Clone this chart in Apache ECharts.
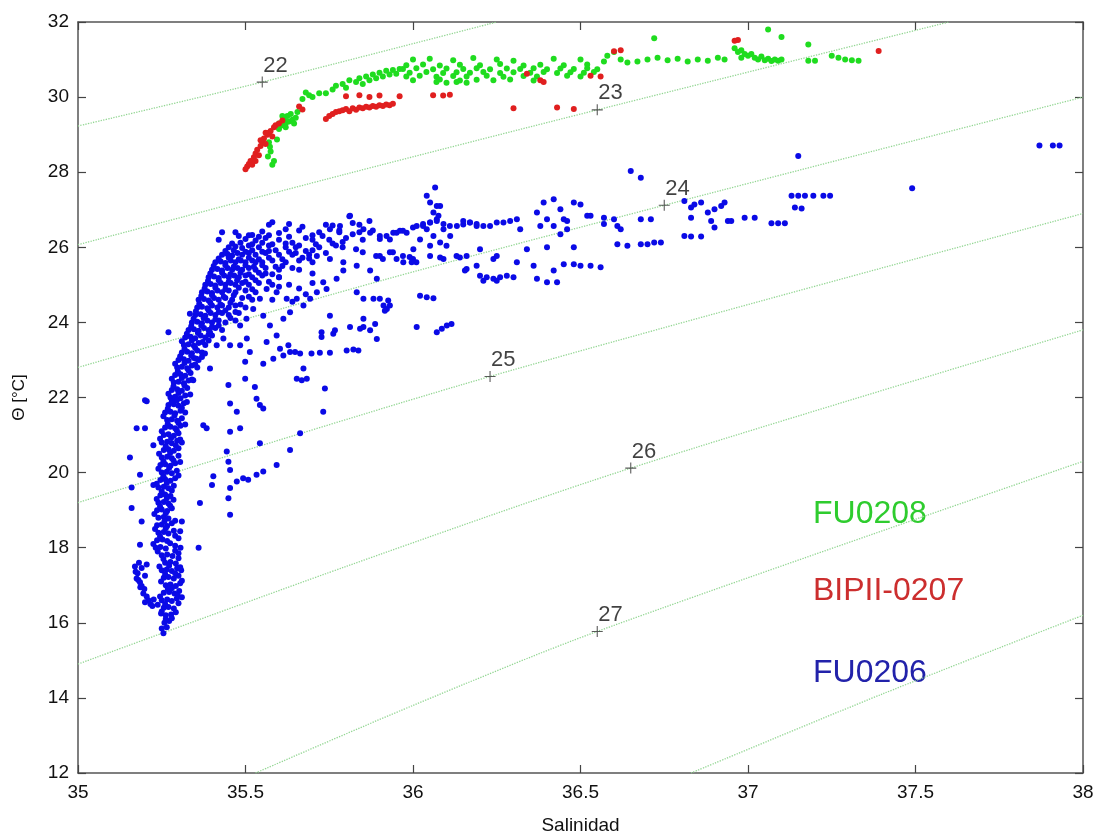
<!DOCTYPE html>
<html>
<head>
<meta charset="utf-8">
<script src="https://cdn.jsdelivr.net/npm/echarts@6/dist/echarts.min.js"></script>
<style>
html,body{margin:0;padding:0;background:#fff;}
#chart{width:1099px;height:840px;}
</style>
</head>
<body>
<div id="chart"></div>
<script>
// ---------- axis ticks ----------
const xTickValues = [35, 35.5, 36, 36.5, 37, 37.5, 38];
const xTickLabels = ['35', '35.5', '36', '36.5', '37', '37.5', '38'];
const yTickValues = [12, 14, 16, 18, 20, 22, 24, 26, 28, 30, 32];
const yTickLabels = ['12', '14', '16', '18', '20', '22', '24', '26', '28', '30', '32'];

// ---------- isopycnal (sigma-theta) lines: [S, theta] ----------
const sigma22 = [[35, 29.23], [35.55, 30.4], [36.25, 32]];
const sigma23 = [[35, 26.07], [35.8, 27.95], [36.55, 29.66], [37.6, 32]];
const sigma24 = [[35, 22.8], [35.9, 25.1], [36.75, 27.12], [38, 30.0]];
const sigma25 = [[35, 19.2], [36.23, 22.56], [38, 26.9]];
const sigma26 = [[35, 14.9], [35.8, 17.5], [36.65, 20.12], [38, 23.8]];
const sigma27 = [[35.53, 12], [36.0, 13.8], [36.55, 15.77], [38, 20.3]];
const sigma28 = [[36.83, 12], [37.4, 14.1], [38, 16.2]];

// ---------- isopycnal labels ----------
const densityLabels = ['22', '23', '24', '25', '26', '27'];
const labelSal = [35.55, 36.55, 36.75, 36.23, 36.65, 36.55];
const labelTheta = [30.4, 29.66, 27.12, 22.56, 20.12, 15.77];

// ---------- legend names ----------
const cruiseNames = ['FU0208', 'BIPII-0207', 'FU0206'];

// ---------- FU0206 (blue) [salinity, theta] ----------
const fu0206 = [
[35.255,15.72],[35.25,15.85],[35.265,15.88],[35.258,16.0],[35.272,16.05],[35.262,16.2],[35.278,16.22],[35.248,16.25],[35.256,16.4],[35.27,16.42],[35.286,16.38],[35.25,16.6],[35.266,16.62],[35.28,16.58],[35.295,16.65],[35.256,16.8],[35.272,16.82],[35.288,16.78],[35.302,16.85],[35.262,17.0],[35.276,17.02],[35.292,16.98],[35.305,17.05],[35.256,17.2],[35.27,17.22],[35.286,17.18],[35.3,17.25],[35.25,17.4],[35.265,17.42],[35.28,17.38],[35.296,17.45],[35.308,17.4],[35.26,17.6],[35.276,17.62],[35.292,17.58],[35.25,17.8],[35.266,17.82],[35.282,17.78],[35.3,17.85],
[35.17,17.5],[35.178,17.32],[35.175,17.18],[35.185,17.08],[35.19,16.98],[35.198,16.9],[35.195,16.78],[35.205,16.7],[35.21,16.6],[35.216,16.5],[35.2,16.55],[35.186,16.95],[35.18,17.14],[35.172,17.36],[35.19,17.46],[35.222,16.45],[35.226,16.62],[35.182,17.6],[35.2,17.25],
[35.232,18.0],[35.246,18.02],[35.262,17.98],[35.29,18.05],[35.306,18.0],[35.236,18.2],[35.252,18.22],[35.266,18.18],[35.3,18.25],[35.24,18.4],[35.256,18.42],[35.27,18.38],[35.286,18.45],[35.236,18.6],[35.25,18.62],[35.266,18.58],[35.28,18.65],[35.24,18.8],[35.256,18.82],[35.27,18.78],[35.236,19.0],[35.25,19.02],[35.266,18.98],[35.28,19.05],[35.24,19.2],[35.256,19.22],[35.27,19.18],[35.246,19.4],[35.26,19.42],[35.276,19.38],[35.24,19.6],[35.256,19.62],[35.27,19.58],[35.286,19.65],[35.246,19.8],[35.26,19.82],[35.276,19.78],[35.29,19.85],
[35.25,20.0],[35.265,20.02],[35.28,19.98],[35.295,20.05],[35.246,20.2],[35.26,20.22],[35.276,20.18],[35.29,20.25],[35.25,20.4],[35.266,20.42],[35.28,20.38],[35.3,20.45],[35.256,20.6],[35.27,20.62],[35.286,20.58],[35.3,20.65],[35.25,20.8],[35.266,20.82],[35.28,20.78],[35.296,20.85],[35.31,20.8],[35.256,21.0],[35.27,21.02],[35.286,20.98],[35.3,21.05],[35.26,21.2],[35.276,21.22],[35.29,21.18],[35.306,21.25],[35.266,21.4],[35.28,21.42],[35.296,21.38],[35.31,21.45],[35.26,21.6],[35.276,21.62],[35.29,21.58],[35.306,21.65],[35.32,21.6],[35.27,21.8],[35.286,21.82],[35.3,21.78],[35.316,21.85],
[35.276,22.0],[35.29,22.02],[35.306,21.98],[35.32,22.05],[35.28,22.2],[35.296,22.22],[35.31,22.18],[35.326,22.25],[35.286,22.4],[35.3,22.42],[35.316,22.38],[35.33,22.45],[35.29,22.6],[35.306,22.62],[35.32,22.58],[35.336,22.65],[35.296,22.8],[35.31,22.82],[35.326,22.78],[35.34,22.85],[35.356,22.8],[35.3,23.0],[35.316,23.02],[35.33,22.98],[35.346,23.05],[35.36,23.0],[35.31,23.2],[35.326,23.22],[35.34,23.18],[35.356,23.25],[35.37,23.2],[35.316,23.4],[35.33,23.42],[35.346,23.38],[35.36,23.45],[35.38,23.4],[35.32,23.6],[35.336,23.62],[35.35,23.58],[35.366,23.65],[35.38,23.6],[35.4,23.65],[35.33,23.8],[35.346,23.82],[35.36,23.78],[35.376,23.85],[35.39,23.8],[35.41,23.85],[35.43,23.8],
[35.34,24.0],[35.356,24.02],[35.37,23.98],[35.386,24.05],[35.4,24.0],[35.42,24.05],[35.44,24.0],[35.47,24.05],
[35.35,24.2],[35.366,24.22],[35.38,24.18],[35.396,24.25],[35.41,24.2],[35.43,24.25],[35.45,24.2],[35.48,24.25],
[35.356,24.4],[35.37,24.42],[35.386,24.38],[35.4,24.45],[35.416,24.4],[35.43,24.45],[35.45,24.4],[35.47,24.45],[35.5,24.4],
[35.36,24.6],[35.376,24.62],[35.39,24.58],[35.406,24.65],[35.42,24.6],[35.44,24.65],[35.46,24.6],[35.49,24.65],[35.52,24.6],
[35.37,24.8],[35.386,24.82],[35.4,24.78],[35.416,24.85],[35.43,24.8],[35.45,24.85],[35.47,24.8],[35.5,24.85],[35.53,24.8],
[35.38,25.0],[35.396,25.02],[35.41,24.98],[35.426,25.05],[35.44,25.0],[35.456,25.05],[35.47,25.0],[35.49,25.05],[35.51,25.0],[35.54,25.05],[35.58,25.0],
[35.39,25.2],[35.406,25.22],[35.42,25.18],[35.436,25.25],[35.45,25.2],[35.466,25.25],[35.48,25.2],[35.5,25.25],[35.52,25.2],[35.55,25.25],[35.6,25.2],
[35.4,25.4],[35.416,25.42],[35.43,25.38],[35.446,25.45],[35.46,25.4],[35.476,25.45],[35.49,25.4],[35.51,25.45],[35.53,25.4],[35.56,25.45],[35.6,25.4],[35.64,25.45],
[35.41,25.6],[35.426,25.62],[35.44,25.58],[35.456,25.65],[35.47,25.6],[35.486,25.65],[35.5,25.6],[35.52,25.65],[35.55,25.6],[35.58,25.65],[35.62,25.6],[35.66,25.65],[35.7,25.6],
[35.43,25.8],[35.446,25.82],[35.46,25.78],[35.476,25.85],[35.49,25.8],[35.51,25.85],[35.53,25.8],[35.56,25.85],[35.6,25.8],[35.65,25.85],[35.69,25.8],[35.74,25.85],
[35.45,26.0],[35.47,26.02],[35.49,25.98],[35.51,26.05],[35.54,26.0],[35.57,26.05],[35.62,26.0],[35.66,26.05],[35.72,26.0],[35.77,26.05],
[35.42,26.2],[35.5,26.22],[35.53,26.18],[35.56,26.25],[35.6,26.2],[35.68,26.25],[35.75,26.2],[35.8,26.25],
[35.47,26.4],[35.55,26.42],[35.6,26.38],[35.66,26.45],[35.72,26.4],[35.78,26.45],[35.84,26.4],
[35.57,26.6],[35.63,26.62],[35.76,26.58],[35.82,26.65],
[35.43,26.4],[35.52,26.33],[35.58,26.67],[35.62,26.48],[35.81,26.83],
[35.262,16.1],[35.28,16.12],[35.25,16.3],[35.292,16.28],[35.26,16.5],[35.3,16.52],[35.238,16.48],[35.245,16.7],[35.298,16.72],[35.31,16.68],[35.268,16.9],[35.28,16.92],[35.248,17.1],[35.31,17.12],[35.26,17.3],[35.29,17.32],[35.243,17.5],[35.272,17.52],[35.305,17.48],[35.255,17.7],[35.3,17.72],[35.238,17.9],[35.29,17.92],
[35.225,18.1],[35.275,18.12],[35.245,18.3],[35.29,18.32],[35.23,18.5],[35.262,18.52],[35.258,18.7],[35.29,18.72],[35.228,18.9],[35.262,18.92],[35.245,19.1],[35.275,19.12],[35.235,19.3],[35.265,19.32],[35.285,19.28],[35.25,19.5],[35.28,19.52],[35.235,19.7],[35.265,19.72],[35.255,19.9],[35.3,19.92],
[35.24,20.1],[35.272,20.12],[35.255,20.3],[35.285,20.32],[35.305,20.28],[35.242,20.5],[35.275,20.52],[35.262,20.7],[35.292,20.72],[35.245,20.9],[35.278,20.92],[35.305,20.88],[35.25,21.1],[35.295,21.12],[35.268,21.3],[35.3,21.32],[35.32,21.28],[35.255,21.5],[35.288,21.52],[35.268,21.7],[35.31,21.72],[35.28,21.9],[35.295,21.92],[35.325,21.88],
[35.27,22.1],[35.3,22.12],[35.335,22.08],[35.285,22.3],[35.318,22.32],[35.28,22.5],[35.31,22.52],[35.34,22.48],[35.298,22.7],[35.33,22.72],[35.29,22.9],[35.318,22.92],[35.35,22.88],[35.305,23.1],[35.338,23.12],[35.37,23.08],[35.318,23.3],[35.35,23.32],[35.31,23.5],[35.34,23.52],[35.372,23.48],[35.39,23.52],[35.325,23.7],[35.358,23.72],[35.39,23.68],[35.338,23.9],[35.368,23.92],[35.4,23.88],[35.42,23.92],
[35.345,24.1],[35.375,24.12],[35.41,24.08],[35.455,24.12],[35.352,24.3],[35.39,24.32],[35.42,24.28],[35.44,24.32],[35.47,24.28],[35.362,24.5],[35.395,24.52],[35.425,24.48],[35.455,24.52],[35.485,24.48],[35.368,24.7],[35.4,24.72],[35.435,24.68],[35.465,24.72],[35.51,24.68],[35.378,24.9],[35.41,24.92],[35.44,24.88],[35.48,24.92],[35.52,24.88],
[35.388,25.1],[35.42,25.12],[35.45,25.08],[35.475,25.12],[35.5,25.08],[35.53,25.12],[35.57,25.08],[35.395,25.3],[35.43,25.32],[35.455,25.28],[35.485,25.32],[35.51,25.28],[35.54,25.32],[35.58,25.28],[35.405,25.5],[35.44,25.52],[35.465,25.48],[35.5,25.52],[35.525,25.48],[35.55,25.52],[35.59,25.48],
[35.42,25.7],[35.45,25.72],[35.48,25.68],[35.51,25.72],[35.54,25.68],[35.57,25.72],[35.61,25.68],[35.67,25.72],[35.44,25.9],[35.465,25.92],[35.5,25.88],[35.52,25.92],[35.55,25.88],[35.59,25.92],[35.63,25.88],[35.7,25.92],
[35.46,26.1],[35.485,26.12],[35.52,26.08],[35.55,26.12],[35.58,26.08],[35.64,26.12],[35.71,26.08],[35.48,26.3],[35.51,26.32],[35.54,26.28],[35.57,26.32],[35.63,26.28],[35.7,26.32],
[35.27,23.74],[35.334,24.23],[35.2,21.93],[35.205,21.9],[35.175,21.18],[35.2,21.18],[35.225,20.73],[35.185,19.94],[35.225,19.67],[35.16,19.06],[35.19,18.7],[35.185,18.08],[35.205,17.55],[35.155,20.4],[35.16,19.6],
[35.36,18.0],[35.31,18.7],[35.305,18.44],[35.364,19.19],[35.4,19.67],[35.404,19.9],[35.444,20.56],[35.449,20.29],[35.454,20.07],[35.454,18.88],[35.449,19.32],[35.454,19.59],
[35.474,19.76],[35.493,19.85],[35.508,19.81],[35.533,19.94],[35.553,20.03],[35.593,20.2],[35.633,20.6],[35.663,21.05],[35.543,20.78],
[35.384,21.18],[35.454,21.09],[35.484,21.18],[35.454,21.84],[35.474,21.62],[35.449,22.33],[35.533,21.97],[35.543,21.8],[35.553,21.71],[35.528,22.28],[35.499,22.5],[35.499,22.95],
[35.553,22.9],[35.583,23.03],[35.613,23.12],[35.628,23.39],[35.633,23.21],[35.648,23.21],[35.653,22.5],[35.668,22.46],[35.683,22.5],[35.673,22.77],[35.737,22.24],[35.732,21.62],[35.374,21.26],
[35.663,23.17],[35.697,23.17],[35.722,23.19],[35.752,23.19],[35.802,23.25],[35.822,23.28],[35.837,23.25],[35.762,23.7],[35.767,23.79],[35.727,23.74],[35.727,23.61],
[35.812,23.88],[35.842,23.83],[35.852,23.88],[35.872,23.79],[35.887,23.96],[35.892,23.56],[35.852,24.1],[35.752,24.18],[35.673,24.45],[35.633,24.27],[35.613,24.1],[35.653,24.63],[35.623,24.63],
[35.593,24.8],[35.563,24.89],[35.543,24.63],[35.523,24.36],[35.503,24.1],[35.484,23.92],[35.553,24.18],[35.573,23.92],[35.593,23.65],[35.563,23.48],[35.603,23.3],
[35.434,23.57],[35.414,23.39],[35.394,23.74],[35.454,23.39],[35.484,23.39],[35.504,23.57],[35.513,23.21],[35.379,23.17],[35.394,22.77],[35.344,22.46],[35.354,23.03],
[35.742,24.89],[35.772,25.16],[35.792,25.38],[35.832,24.8],[35.852,24.63],[35.882,24.63],[35.912,24.45],[35.922,24.36],[35.901,24.63],[35.926,24.58],[35.931,24.45],[35.916,24.31],
[35.693,24.63],[35.713,24.8],[35.732,25.07],[36.021,24.71],[36.041,24.67],[36.061,24.64],[36.011,23.88],[36.071,23.74],[36.086,23.83],[36.101,23.92],[36.115,23.96],[36.16,25.42],
[35.56,25.3],[35.6,24.95],[35.66,24.9],[35.7,25.05],[35.58,24.6],[35.64,24.55],[35.68,24.75],[35.53,25.6],[35.57,25.9],
[35.62,26.1],[35.65,26.0],[35.68,25.9],[35.7,26.2],[35.73,26.3],[35.76,26.1],[35.79,26.0],[35.82,26.35],[35.85,26.2],[35.88,26.45],[35.67,26.55],[35.74,26.6],[35.78,26.4],[35.84,26.6],[35.87,26.7],[35.64,25.8],[35.69,25.7],[35.61,25.5],[35.66,25.4],[35.7,25.3],[35.6,25.2],[35.63,25.0],
[35.752,26.48],[35.782,26.57],[35.812,26.84],[35.852,26.48],[35.872,26.39],[35.901,26.3],[35.931,26.21],[35.951,26.39],[35.97,26.44],[36.0,26.53],[36.03,26.57],[36.051,26.66],[36.071,26.75],[36.081,27.1],[36.091,26.48],[36.111,26.3],[36.131,26.57],[36.15,26.61],[36.17,26.66],[36.19,26.57],
[35.713,25.77],[35.752,25.69],[35.792,25.6],[35.832,25.51],[35.872,25.38],[35.892,25.16],[36.051,25.77],[36.091,25.69],[36.14,25.73],[36.19,25.51],
[35.79,26.14],[35.83,25.95],[35.85,25.87],[35.89,25.77],[35.91,25.69],[35.94,25.87],[35.97,25.77],[36.0,25.69],[36.01,25.6],[35.99,25.74],
[35.901,26.22],[35.921,26.3],[35.941,26.39],[35.961,26.44],[35.981,26.39],[35.901,25.77],[35.931,25.87],[35.951,25.69],[35.971,25.6],[35.996,25.6],
[36.011,26.57],[36.03,26.62],[36.051,26.66],[36.071,26.7],[36.091,26.62],[36.11,26.57],[36.061,26.93],[36.071,27.1],[36.076,26.84],[36.041,26.48],[36.061,26.3],[36.081,26.13],[36.1,26.04],[36.051,26.04],[36.021,26.21],[36.001,25.95],
[36.041,27.37],[36.066,27.59],[36.051,27.19],
[36.13,25.77],[36.16,25.77],[36.2,25.95],[36.24,25.69],[36.25,25.77],
[36.15,26.7],[36.17,26.66],[36.19,26.62],[36.21,26.57],[36.23,26.57],[36.25,26.66],[36.27,26.66],[36.29,26.7],[36.31,26.75],[36.32,26.48],
[36.2,25.24],[36.22,25.2],[36.24,25.16],[36.26,25.2],[36.28,25.24],[36.3,25.2],[36.21,25.11],[36.25,25.11],[36.155,25.38],[36.081,25.73],
[36.31,25.6],[36.36,25.51],[36.4,26.0],[36.42,25.38],[36.45,25.55],[36.48,25.55],[36.5,25.51],[36.53,25.51],[36.56,25.47],
[36.37,25.16],[36.4,25.07],[36.43,25.07],[36.34,25.95],[36.48,26.0],
[36.37,26.93],[36.39,27.19],[36.4,26.75],[36.42,27.28],[36.44,27.01],[36.45,26.75],[36.46,26.7],[36.48,27.19],[36.5,27.14],[36.52,26.84],[36.42,26.57],[36.38,26.57],[36.44,26.35],[36.46,26.48],
[36.53,26.84],[36.57,26.79],[36.57,26.62],[36.6,26.75],[36.61,26.57],[36.62,26.48],[36.61,26.08],[36.64,26.04],
[36.68,26.08],[36.7,26.08],[36.72,26.13],[36.74,26.13],[36.65,28.03],[36.68,27.85],[36.68,26.75],[36.71,26.75],
[36.81,27.23],[36.84,27.14],[36.86,27.19],[36.83,27.06],[36.83,26.79],[36.81,26.3],[36.83,26.29],[36.86,26.29],
[36.88,26.93],[36.9,27.01],[36.92,27.1],[36.89,26.7],[36.9,26.53],[36.94,26.7],[36.95,26.7],[36.93,27.19],
[36.99,26.79],[37.02,26.79],[37.07,26.64],[37.09,26.64],[37.11,26.64],
[37.13,27.37],[37.15,27.37],[37.17,27.37],[37.14,27.06],[37.16,27.03],[37.15,28.43],
[37.195,27.37],[37.225,27.37],[37.245,27.37],[37.49,27.57],[37.87,28.71],[37.91,28.71],[37.93,28.71]
];

// ---------- BIPII-0207 (red) ----------
const bipii0207 = [
[35.5,28.08],[35.505,28.15],[35.51,28.22],[35.515,28.3],[35.52,28.2],[35.525,28.4],[35.53,28.5],[35.535,28.6],[35.54,28.45],[35.545,28.7],[35.55,28.8],[35.555,28.9],[35.56,28.75],[35.565,29.0],[35.57,29.05],[35.575,29.1],[35.58,28.95],[35.585,29.2],[35.59,29.25],[35.6,29.3],[35.61,29.38],[35.53,28.3],[35.56,29.05],[35.545,28.85],
[35.66,29.75],[35.67,29.67],
[35.74,29.42],[35.75,29.5],[35.76,29.55],[35.77,29.6],[35.78,29.62],[35.79,29.65],[35.8,29.68],[35.81,29.62],[35.82,29.7],[35.83,29.66],[35.84,29.72],[35.85,29.7],[35.86,29.74],[35.87,29.72],[35.88,29.76],[35.89,29.74],[35.9,29.78],[35.91,29.76],[35.92,29.8],[35.93,29.78],[35.94,29.82],
[35.8,30.02],[35.84,30.05],[35.87,30.0],[35.9,30.04],[35.96,30.02],[36.06,30.05],[36.09,30.04],[36.11,30.06],
[36.3,29.7],[36.43,29.72],[36.48,29.68],[36.34,30.62],[36.38,30.45],[36.39,30.4],[36.53,30.57],[36.56,30.55],[36.6,31.22],[36.62,31.25],[36.97,31.52],[36.96,31.5],[37.39,31.23]
];

// ---------- FU0208 (green) ----------
const fu0208 = [
[35.58,28.2],[35.567,28.42],[35.573,28.68],[35.594,28.87],[35.585,28.3],[35.575,28.55],[35.57,28.8],
[35.6,29.15],[35.61,29.25],[35.62,29.3],[35.63,29.35],[35.64,29.4],[35.65,29.45],[35.615,29.4],[35.625,29.5],[35.635,29.55],[35.645,29.3],[35.655,29.6],[35.6,29.3],[35.61,29.5],[35.62,29.2],
[35.67,29.95],[35.69,30.05],[35.7,30.0],[35.72,30.1],[35.68,30.12],
[35.74,30.1],[35.76,30.2],[35.77,30.3],[35.79,30.35],[35.8,30.25],[35.81,30.45],[35.83,30.4],[35.84,30.5],[35.85,30.35],[35.86,30.55],[35.87,30.45],[35.88,30.6],[35.89,30.5],[35.9,30.65],[35.91,30.55],[35.92,30.7],[35.93,30.6],[35.94,30.72],[35.95,30.62],[35.96,30.75],
[36.0,31.0],[36.05,31.02],[36.12,30.98],[36.18,31.04],[36.25,31.0],[36.3,30.97],[36.42,31.02],[36.5,31.0],
[35.98,30.85],[36.03,30.87],[36.08,30.84],[36.14,30.86],[36.2,30.85],[36.26,30.88],[36.33,30.84],[36.38,30.86],[36.45,30.85],[36.52,30.87],
[35.97,30.75],[36.01,30.77],[36.06,30.74],[36.1,30.76],[36.15,30.75],[36.19,30.77],[36.23,30.74],[36.28,30.76],[36.32,30.75],[36.36,30.77],[36.4,30.74],[36.44,30.76],[36.48,30.75],[36.52,30.77],[36.55,30.74],
[35.99,30.65],[36.04,30.67],[36.09,30.64],[36.13,30.66],[36.17,30.65],[36.21,30.67],[36.26,30.64],[36.3,30.66],[36.35,30.65],[36.39,30.67],[36.43,30.64],[36.47,30.66],[36.51,30.65],[36.54,30.67],
[35.98,30.55],[36.02,30.57],[36.07,30.54],[36.12,30.56],[36.16,30.55],[36.22,30.57],[36.27,30.54],[36.33,30.56],[36.37,30.55],[36.46,30.57],[36.5,30.55],
[36.0,30.45],[36.08,30.47],[36.14,30.44],[36.19,30.46],[36.24,30.45],[36.29,30.47],[36.36,30.44],
[36.07,30.4],[36.1,30.38],[36.13,30.4],[36.16,30.38],
[36.57,30.95],[36.58,31.1],[36.6,31.2],[36.62,31.0],[36.64,30.92],
[36.67,30.95],[36.7,31.0],[36.73,31.05],[36.76,30.98],[36.79,31.02],[36.82,30.95],[36.85,31.0],[36.88,30.97],[36.91,31.05],[36.93,31.0],[36.72,31.57],
[36.96,31.3],[36.97,31.2],[36.98,31.25],[36.99,31.15],[37.0,31.1],[37.01,31.15],[37.02,31.05],[37.03,31.0],[37.04,31.08],[37.05,30.98],[37.06,31.02],[37.07,30.96],[37.08,31.0],[37.09,30.97],[37.1,31.0],[36.98,31.05],
[37.06,31.8],[37.1,31.6],[37.18,31.4],[37.18,30.97],[37.2,30.97],
[37.25,31.1],[37.27,31.05],[37.29,31.0],[37.31,30.98],[37.33,30.97]
];

const FONT = '"Liberation Sans", Arial, sans-serif';
const chart = echarts.init(document.getElementById('chart'), null, {renderer: 'canvas'});

function isoLine(data) {
  return {
    type: 'line', data: data, showSymbol: false, smooth: 0.3, silent: true, z: 1,
    xAxisIndex: 0, yAxisIndex: 0,
    lineStyle: {type: 'dotted', color: '#93d693', width: 1.3}
  };
}
function dots(data, color, z) {
  return {
    type: 'scatter', data: data, symbol: 'circle', symbolSize: 6, silent: true, z: z,
    xAxisIndex: 0, yAxisIndex: 0,
    itemStyle: {color: color, opacity: 1}
  };
}
const labelData = densityLabels.map((t, i) => [labelSal[i], labelTheta[i], t]);

const axisLineStyle = {color: '#555', width: 1.5};
const tickStyle = {inside: true, length: 8, lineStyle: {color: '#444', width: 1.2}};
const xFmt = v => { const i = xTickValues.indexOf(Math.round(v * 10) / 10); return i >= 0 ? xTickLabels[i] : ''; };
const yFmt = v => { const i = yTickValues.indexOf(Math.round(v)); return i >= 0 ? yTickLabels[i] : ''; };

chart.setOption({
  animation: false,
  backgroundColor: '#fff',
  grid: {left: 78, top: 22, width: 1005, height: 754},
  xAxis: [
    {type: 'value', position: 'bottom', min: 35, max: 38, interval: 0.5,
     axisLine: {show: true, onZero: false, lineStyle: axisLineStyle}, axisTick: tickStyle,
     axisLabel: {formatter: xFmt, fontSize: 19, color: '#111', margin: 10, fontFamily: FONT},
     splitLine: {show: false},
     name: 'Salinidad', nameLocation: 'middle', nameGap: 43,
     nameTextStyle: {fontSize: 19, color: '#111', fontFamily: FONT}},
    {type: 'value', position: 'top', min: 35, max: 38, interval: 0.5,
     axisLine: {show: true, onZero: false, lineStyle: axisLineStyle}, axisTick: tickStyle,
     axisLabel: {show: false}, splitLine: {show: false}}
  ],
  yAxis: [
    {type: 'value', position: 'left', min: 12, max: 32, interval: 2,
     axisLine: {show: true, onZero: false, lineStyle: axisLineStyle}, axisTick: tickStyle,
     axisLabel: {formatter: yFmt, fontSize: 19, color: '#111', margin: 9, fontFamily: FONT},
     splitLine: {show: false},
     name: 'Θ [°C]', nameLocation: 'middle', nameGap: 50, nameRotate: 90,
     nameTextStyle: {fontSize: 17, color: '#111', fontFamily: FONT}},
    {type: 'value', position: 'right', min: 12, max: 32, interval: 2,
     axisLine: {show: true, onZero: false, lineStyle: axisLineStyle}, axisTick: tickStyle,
     axisLabel: {show: false}, splitLine: {show: false}}
  ],
  series: [
    isoLine(sigma22), isoLine(sigma23), isoLine(sigma24), isoLine(sigma25),
    isoLine(sigma26), isoLine(sigma27), isoLine(sigma28),
    dots(fu0206, '#0a0ae6', 3),
    dots(fu0208, '#1fdc1f', 4),
    dots(bipii0207, '#e01f1f', 5),
    {
      type: 'scatter', data: labelData, silent: true, z: 6,
      xAxisIndex: 0, yAxisIndex: 0,
      symbol: 'path://M4.5,0h1v10h-1zM0,4.5h10v1h-10z', symbolSize: 11,
      itemStyle: {color: '#333'},
      label: {show: true, formatter: p => p.data[2], position: [6.5, -22],
              fontSize: 22, color: '#111', fontFamily: FONT}
    }
  ],
  graphic: [
    {type: 'text', x: 813, y: 514, style: {text: cruiseNames[0], fill: '#2ecc2e', font: '32px ' + FONT, verticalAlign: 'middle'}},
    {type: 'text', x: 813, y: 591, style: {text: cruiseNames[1], fill: '#cc2e2e', font: '32px ' + FONT, verticalAlign: 'middle'}},
    {type: 'text', x: 813, y: 673, style: {text: cruiseNames[2], fill: '#2222aa', font: '32px ' + FONT, verticalAlign: 'middle'}}
  ]
});
</script>
</body>
</html>
